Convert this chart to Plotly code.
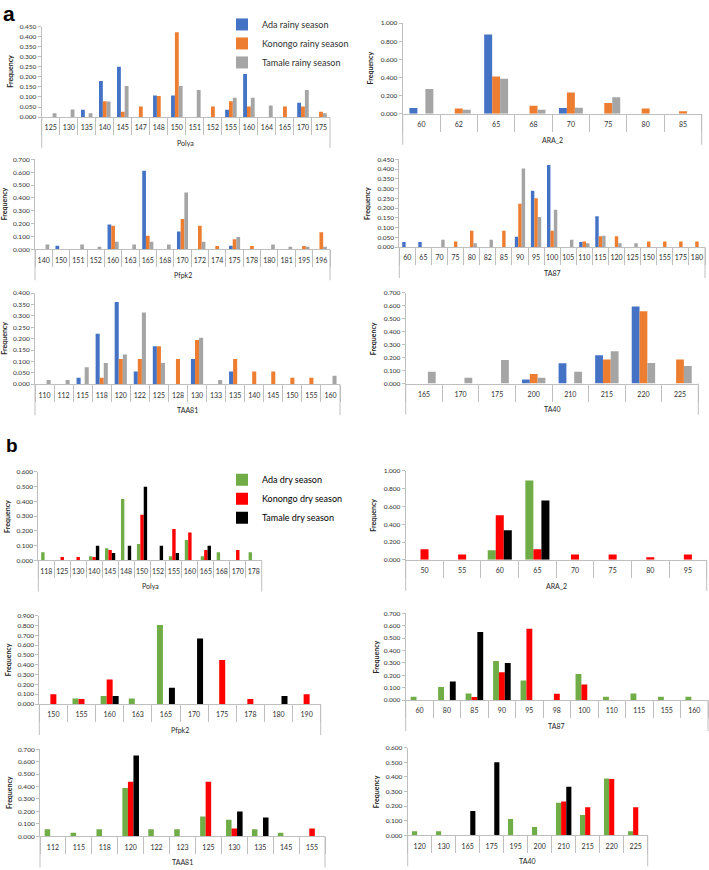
import plotly.graph_objects as go

# ---------------- data ----------------
rainy_names = ["Ada rainy season", "Konongo rainy season", "Tamale rainy season"]
rainy_colors = ["#4472C4", "#ED7D31", "#A5A5A5"]
dry_names = ["Ada dry season", "Konongo dry season", "Tamale dry season"]
dry_colors = ["#70AD47", "#FF0000", "#000000"]

# panel a (rainy season)
a_polya_cats = ["125", "130", "135", "140", "145", "147", "148", "150", "151", "152", "155", "160", "164", "165", "170", "175"]
a_polya_ada = [0, 0, 0.036, 0.179, 0.250, 0, 0.107, 0.107, 0, 0, 0.036, 0.214, 0, 0, 0.071, 0]
a_polya_kon = [0, 0, 0, 0.079, 0.026, 0.053, 0.105, 0.421, 0, 0.053, 0.079, 0.053, 0, 0.053, 0.053, 0.026]
a_polya_tam = [0.019, 0.038, 0.019, 0.077, 0.154, 0, 0, 0.154, 0.135, 0, 0.096, 0.096, 0.058, 0, 0.135, 0.019]

a_ara_cats = ["60", "62", "65", "68", "70", "75", "80", "85"]
a_ara_ada = [0.063, 0, 0.875, 0, 0.063, 0, 0, 0]
a_ara_kon = [0, 0.059, 0.412, 0.088, 0.235, 0.118, 0.059, 0.029]
a_ara_tam = [0.273, 0.045, 0.386, 0.045, 0.068, 0.182, 0, 0]

a_pfpk_cats = ["140", "150", "151", "152", "160", "163", "165", "168", "170", "172", "174", "175", "178", "180", "181", "195", "196"]
a_pfpk_ada = [0, 0.028, 0, 0, 0.194, 0, 0.611, 0, 0.139, 0, 0, 0.028, 0, 0, 0, 0, 0]
a_pfpk_kon = [0, 0, 0, 0, 0.184, 0, 0.105, 0, 0.237, 0.184, 0.026, 0.079, 0.026, 0, 0, 0.026, 0.132]
a_pfpk_tam = [0.038, 0, 0.038, 0.019, 0.058, 0.038, 0.058, 0.038, 0.442, 0.058, 0, 0.096, 0, 0.038, 0.019, 0.019, 0.019]

a_ta87_cats = ["60", "65", "70", "75", "80", "82", "85", "90", "95", "100", "105", "110", "115", "120", "125", "150", "155", "175", "180"]
a_ta87_ada = [0.026, 0.026, 0, 0, 0, 0, 0, 0.053, 0.289, 0.421, 0, 0.026, 0.158, 0, 0, 0, 0, 0, 0]
a_ta87_kon = [0, 0, 0, 0.028, 0.083, 0, 0.083, 0.222, 0.250, 0.083, 0, 0.028, 0.056, 0.056, 0, 0.028, 0.028, 0.028, 0.028]
a_ta87_tam = [0, 0, 0.038, 0, 0.019, 0.038, 0, 0.404, 0.154, 0.192, 0.038, 0.019, 0.058, 0.019, 0.019, 0, 0, 0, 0]

a_taa81_cats = ["110", "112", "115", "118", "120", "122", "125", "128", "130", "133", "135", "140", "145", "150", "155", "160"]
a_taa81_ada = [0, 0, 0.028, 0.222, 0.361, 0.056, 0.167, 0, 0.111, 0, 0.056, 0, 0, 0, 0, 0]
a_taa81_kon = [0, 0, 0, 0.028, 0.111, 0.111, 0.167, 0.111, 0.194, 0, 0.111, 0.056, 0.056, 0.028, 0.028, 0]
a_taa81_tam = [0.019, 0.019, 0.074, 0.093, 0.130, 0.315, 0.093, 0, 0.204, 0.019, 0, 0, 0, 0, 0, 0.037]

a_ta40_cats = ["165", "170", "175", "200", "210", "215", "220", "225"]
a_ta40_ada = [0, 0, 0, 0.031, 0.156, 0.219, 0.594, 0]
a_ta40_kon = [0, 0, 0, 0.074, 0, 0.185, 0.556, 0.185]
a_ta40_tam = [0.091, 0.045, 0.182, 0.045, 0.091, 0.250, 0.159, 0.136]

# panel b (dry season)
b_polya_cats = ["118", "125", "130", "140", "145", "148", "150", "152", "155", "160", "165", "168", "170", "178"]
b_polya_ada = [0.056, 0, 0, 0.028, 0.083, 0.417, 0.111, 0, 0.028, 0.139, 0.028, 0.056, 0, 0.056]
b_polya_kon = [0, 0.024, 0.024, 0.024, 0.071, 0, 0.310, 0, 0.214, 0.190, 0.071, 0, 0.071, 0]
b_polya_tam = [0, 0, 0, 0.100, 0.050, 0.100, 0.500, 0.100, 0.050, 0, 0.100, 0, 0, 0]

b_ara_cats = ["50", "55", "60", "65", "70", "75", "80", "95"]
b_ara_ada = [0, 0, 0.107, 0.893, 0, 0, 0, 0]
b_ara_kon = [0.118, 0.059, 0.500, 0.118, 0.059, 0.059, 0.029, 0.059]
b_ara_tam = [0, 0, 0.333, 0.667, 0, 0, 0, 0]

b_pfpk_cats = ["150", "155", "160", "163", "165", "170", "175", "178", "180", "190"]
b_pfpk_ada = [0, 0.056, 0.083, 0.056, 0.806, 0, 0, 0, 0, 0]
b_pfpk_kon = [0.100, 0.050, 0.250, 0, 0, 0, 0.450, 0.050, 0, 0.100]
b_pfpk_tam = [0, 0, 0.083, 0, 0.167, 0.667, 0, 0, 0.083, 0]

b_ta87_cats = ["60", "80", "85", "90", "95", "98", "100", "110", "115", "155", "160"]
b_ta87_ada = [0.026, 0.105, 0.053, 0.316, 0.158, 0, 0.211, 0.026, 0.053, 0.026, 0.026]
b_ta87_kon = [0, 0, 0.025, 0.225, 0.575, 0.050, 0.125, 0, 0, 0, 0]
b_ta87_tam = [0, 0.150, 0.550, 0.300, 0, 0, 0, 0, 0, 0, 0]

b_taa81_cats = ["112", "115", "118", "120", "122", "123", "125", "130", "135", "145", "155"]
b_taa81_ada = [0.056, 0.028, 0.056, 0.389, 0.056, 0.056, 0.158, 0.133, 0.056, 0.028, 0]
b_taa81_kon = [0, 0, 0, 0.438, 0, 0, 0.438, 0.063, 0, 0, 0.063]
b_taa81_tam = [0, 0, 0, 0.650, 0, 0, 0, 0.200, 0.150, 0, 0]

b_ta40_cats = ["120", "130", "165", "175", "195", "200", "210", "215", "220", "225"]
b_ta40_ada = [0.028, 0.028, 0, 0, 0.111, 0.056, 0.222, 0.139, 0.389, 0.028]
b_ta40_kon = [0, 0, 0, 0, 0, 0, 0.231, 0.192, 0.385, 0.192]
b_ta40_tam = [0, 0, 0.167, 0.500, 0, 0, 0.333, 0, 0, 0]

# ---------------- geometry / style ----------------
W, H = 709, 870
FONT = "Lato, 'Open Sans', sans-serif"
AXC = "#BFBFBF"
TXT = "#303030"

panels = [
    dict(cats=a_polya_cats, vals=[a_polya_ada, a_polya_kon, a_polya_tam], dry=False, title="Polya",
         ymax=0.45, dtick=0.05, box=(41.7, 330, 22.7, 114), fx=10),
    dict(cats=a_ara_cats, vals=[a_ara_ada, a_ara_kon, a_ara_tam], dry=False, title="ARA_2",
         ymax=1.0, dtick=0.2, box=(402.7, 701.7, 19.3, 110.7), fx=370),
    dict(cats=a_pfpk_cats, vals=[a_pfpk_ada, a_pfpk_kon, a_pfpk_tam], dry=False, title="Pfpk2",
         ymax=0.7, dtick=0.1, box=(35, 330, 156.7, 247.3), fx=4),
    dict(cats=a_ta87_cats, vals=[a_ta87_ada, a_ta87_kon, a_ta87_tam], dry=False, title="TA87",
         ymax=0.45, dtick=0.05, box=(399.3, 705, 156.7, 245), fx=367.7),
    dict(cats=a_taa81_cats, vals=[a_taa81_ada, a_taa81_kon, a_taa81_tam], dry=False, title="TAA81",
         ymax=0.4, dtick=0.05, box=(35, 340, 291.5, 383.3), fx=4),
    dict(cats=a_ta40_cats, vals=[a_ta40_ada, a_ta40_kon, a_ta40_tam], dry=False, title="TA40",
         ymax=0.7, dtick=0.1, box=(405.7, 698.3, 291, 382.7), fx=373),
    dict(cats=b_polya_cats, vals=[b_polya_ada, b_polya_kon, b_polya_tam], dry=True, title="Polya",
         ymax=0.6, dtick=0.1, box=(38.3, 261.7, 471.7, 561), fx=6.7),
    dict(cats=b_ara_cats, vals=[b_ara_ada, b_ara_kon, b_ara_tam], dry=True, title="ARA_2",
         ymax=1.0, dtick=0.2, box=(405.7, 706.7, 470.7, 560.3), fx=373.3),
    dict(cats=b_pfpk_cats, vals=[b_pfpk_ada, b_pfpk_kon, b_pfpk_tam], dry=True, title="Pfpk2",
         ymax=0.9, dtick=0.1, box=(39.3, 320.7, 616.7, 705.7), fx=8.3),
    dict(cats=b_ta87_cats, vals=[b_ta87_ada, b_ta87_kon, b_ta87_tam], dry=True, title="TA87",
         ymax=0.7, dtick=0.1, box=(405.7, 708, 614.3, 701.7), fx=375.7),
    dict(cats=b_taa81_cats, vals=[b_taa81_ada, b_taa81_kon, b_taa81_tam], dry=True, title="TAA81",
         ymax=0.7, dtick=0.1, box=(40, 325, 751.3, 839), fx=8.3),
    dict(cats=b_ta40_cats, vals=[b_ta40_ada, b_ta40_kon, b_ta40_tam], dry=True, title="TA40",
         ymax=0.6, dtick=0.1, box=(407.7, 647.7, 749.7, 838), fx=376.7),
]

fig = go.Figure()
layout = dict(
    width=W, height=H, margin=dict(l=0, r=0, t=0, b=0),
    paper_bgcolor="white", plot_bgcolor="white",
    barmode="group", bargap=0.36, bargroupgap=0,
    font=dict(family=FONT, size=7, color=TXT),
    showlegend=True,
)
shapes = []
annotations = []

for i, p in enumerate(panels):
    n = i + 1
    sfx = "" if n == 1 else str(n)
    xa, ya = "x" + sfx, "y" + sfx
    names = dry_names if p["dry"] else rainy_names
    colors = dry_colors if p["dry"] else rainy_colors
    first = (i == 0) or (i == 6)
    for k in range(3):
        fig.add_trace(go.Bar(
            x=p["cats"], y=p["vals"][k], name=names[k],
            marker=dict(color=colors[k], line=dict(width=0)),
            xaxis=xa, yaxis=ya, showlegend=first,
            legend="legend2" if p["dry"] else "legend",
        ))
    x0, x1, yt, yb = p["box"]
    layout["xaxis" + sfx] = dict(
        domain=[x0 / W, x1 / W], anchor=ya, type="category",
        showline=True, linecolor=AXC, linewidth=1,
        ticks="outside", tickson="boundaries", ticklen=17, tickcolor=AXC, tickwidth=1,
        tickmode="linear", dtick=1, tickangle=0,
        ticklabelstandoff=4,
        tickfont=dict(family=FONT, size=7, color=TXT),
        showgrid=False, zeroline=False, fixedrange=True,
    )
    layout["yaxis" + sfx] = dict(
        domain=[1 - yb / H, 1 - yt / H], anchor=xa,
        range=[0, p["ymax"]], dtick=p["dtick"], tick0=0, tickformat=".3f",
        showline=True, linecolor=AXC, linewidth=1,
        ticks="outside", ticklen=3, tickcolor=AXC,
        tickfont=dict(family=FONT, size=6.5, color=TXT),
        showgrid=False, zeroline=False, fixedrange=True,
    )
    # outer frame lines of the category-label box
    for xx in (0, 1):
        shapes.append(dict(
            type="line", xref=xa + " domain", yref=ya + " domain",
            x0=xx, x1=xx, ysizemode="pixel", yanchor=0, y0=0, y1=-31,
            line=dict(color=AXC, width=1),
        ))
    # axis title
    annotations.append(dict(
        text=p["title"], x=(x0 + x1) / 2 / W, y=1 - (yb + 26) / H,
        xref="paper", yref="paper", xanchor="center", yanchor="middle",
        showarrow=False, font=dict(family=FONT, size=7, color="#262626"),
    ))
    # y axis title
    annotations.append(dict(
        text="<b>Frequency</b>", x=p["fx"] / W, y=1 - (yt + yb) / 2 / H,
        xref="paper", yref="paper", xanchor="center", yanchor="middle", textangle=-90,
        showarrow=False, font=dict(family=FONT, size=7, color="#262626"),
    ))

annotations.append(dict(text="<b>a</b>", x=1 / W, y=1 + 4 / H, xref="paper", yref="paper",
                        xanchor="left", yanchor="top", showarrow=False,
                        font=dict(family="Liberation Sans, Arial", size=21, color="black")))
annotations.append(dict(text="<b>b</b>", x=4 / W, y=1 - 432 / H, xref="paper", yref="paper",
                        xanchor="left", yanchor="top", showarrow=False,
                        font=dict(family="Liberation Sans, Arial", size=19, color="black")))

layout["legend"] = dict(x=222 / W, y=1 - 6 / H, xanchor="left", yanchor="top",
                        bgcolor="rgba(0,0,0,0)", font=dict(family=FONT, size=9, color=TXT),
                        itemclick=False, itemdoubleclick=False)
layout["legend2"] = dict(x=222 / W, y=1 - 465 / H, xanchor="left", yanchor="top",
                         bgcolor="rgba(0,0,0,0)", font=dict(family=FONT, size=9, color="black"),
                         itemclick=False, itemdoubleclick=False)
layout["shapes"] = shapes
layout["annotations"] = annotations
fig.update_layout(**layout)

fig.write_html(
    "out.html",
    config={"displayModeBar": False},
    post_script="document.body.style.margin='0';document.body.style.overflow='hidden';",
)
